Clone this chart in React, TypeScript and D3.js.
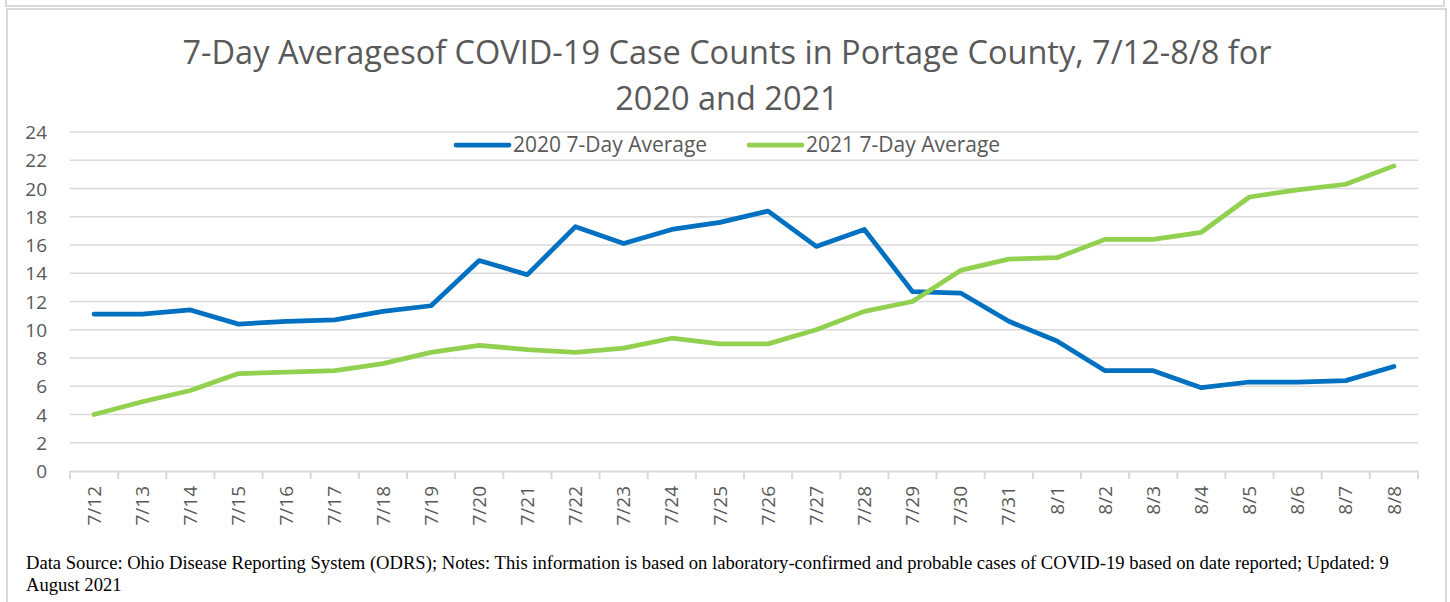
import React, { useEffect, useRef } from 'react';
import * as d3 from 'd3';

const days = [
  '7/12', '7/13', '7/14', '7/15', '7/16', '7/17', '7/18', '7/19', '7/20', '7/21',
  '7/22', '7/23', '7/24', '7/25', '7/26', '7/27', '7/28', '7/29', '7/30', '7/31',
  '8/1', '8/2', '8/3', '8/4', '8/5', '8/6', '8/7', '8/8'
];

const avg2020 = [
  11.1, 11.1, 11.4, 10.4, 10.6, 10.7, 11.3, 11.7, 14.9, 13.9,
  17.3, 16.1, 17.1, 17.6, 18.4, 15.9, 17.1, 12.7, 12.6, 10.6,
  9.2, 7.1, 7.1, 5.9, 6.3, 6.3, 6.4, 7.4
];

const avg2021 = [
  4.0, 4.9, 5.7, 6.9, 7.0, 7.1, 7.6, 8.4, 8.9, 8.6,
  8.4, 8.7, 9.4, 9.0, 9.0, 10.0, 11.3, 12.0, 14.2, 15.0,
  15.1, 16.4, 16.4, 16.9, 19.4, 19.9, 20.3, 21.6
];

const yTicks = [0, 2, 4, 6, 8, 10, 12, 14, 16, 18, 20, 22, 24];

const seriesNames = ['2020 7-Day Average', '2021 7-Day Average'];
const seriesColors = ['#0070C0', '#92D050'];

const titleLines = [
  '7-Day Averagesof COVID-19 Case Counts in Portage County, 7/12-8/8 for',
  '2020 and 2021'
];
const footerLines = [
  'Data Source: Ohio Disease Reporting System (ODRS); Notes: This information is based on laboratory-confirmed and probable cases of COVID-19 based on date reported; Updated: 9',
  'August 2021'
];

const W = 1450;
const H = 602;
const sans = "'Open Sans', sans-serif";

export default function App() {
  const ref = useRef<SVGSVGElement | null>(null);

  useEffect(() => {
    document.body.style.margin = '0';
    const svg = d3.select(ref.current);
    svg.selectAll('*').remove();

    // frames
    svg.append('rect').attr('x', 6).attr('y', -10).attr('width', 1438).attr('height', 16)
      .attr('fill', 'none').attr('stroke', '#d9d9d9').attr('stroke-width', 2);
    svg.append('rect').attr('x', 7).attr('y', 9).attr('width', 1439).attr('height', 600)
      .attr('fill', '#fff').attr('stroke', '#d9d9d9').attr('stroke-width', 2);

    const left = 70, right = 1418, top = 132, bottom = 471;

    const x = d3.scaleBand().domain(days).range([left, right]);
    const y = d3.scaleLinear().domain([0, 24]).range([bottom, top]);

    // title
    svg.append('g').selectAll('text').data(titleLines).enter().append('text')
      .attr('x', 727).attr('y', (d, i) => 64 + i * 46)
      .attr('text-anchor', 'middle')
      .attr('font-family', sans).attr('font-size', 32.5).attr('fill', '#595959')
      .text(d => d);

    // gridlines
    svg.append('g').selectAll('line').data(yTicks.filter(t => t > 0)).enter().append('line')
      .attr('x1', left).attr('x2', right)
      .attr('y1', d => y(d)).attr('y2', d => y(d))
      .attr('stroke', '#d9d9d9').attr('stroke-width', 1.5);

    // y axis labels
    const yAxis = svg.append('g').attr('transform', `translate(${left - 23},0)`)
      .call(d3.axisLeft(y).tickValues(yTicks).tickSize(0).tickPadding(0));
    yAxis.select('.domain').remove();
    yAxis.selectAll('text').attr('font-family', sans).attr('font-size', 19)
      .attr('fill', '#595959').attr('dy', '0.35em');

    // x axis
    const xAxis = svg.append('g').attr('transform', `translate(0,${bottom})`)
      .call(d3.axisBottom(x).tickSize(0));
    xAxis.select('.domain').attr('stroke', '#d9d9d9').attr('stroke-width', 2);
    xAxis.selectAll('text')
      .attr('font-family', sans).attr('font-size', 19).attr('fill', '#595959')
      .attr('transform', 'rotate(-90)')
      .attr('text-anchor', 'end')
      .attr('x', -15).attr('y', 0).attr('dy', '0.35em');

    // tick marks between categories
    const bounds = days.map(d => x(d) as number).concat([right]);
    svg.append('g').selectAll('line').data(bounds).enter().append('line')
      .attr('x1', d => d).attr('x2', d => d)
      .attr('y1', bottom).attr('y2', bottom + 8)
      .attr('stroke', '#d9d9d9').attr('stroke-width', 2);

    // lines
    const line = d3.line<number>()
      .x((d, i) => (x(days[i]) as number) + x.bandwidth() / 2)
      .y(d => y(d));

    [avg2020, avg2021].forEach((s, i) => {
      svg.append('path').datum(s)
        .attr('d', line)
        .attr('fill', 'none')
        .attr('stroke', seriesColors[i])
        .attr('stroke-width', 4.75)
        .attr('stroke-linejoin', 'round')
        .attr('stroke-linecap', 'round');
    });

    // legend
    const legendX = [456, 749];
    const lg = svg.append('g').selectAll('g').data(seriesNames).enter().append('g')
      .attr('transform', (d, i) => `translate(${legendX[i]},145)`);
    lg.append('line').attr('x1', 0).attr('x2', 53).attr('y1', 0).attr('y2', 0)
      .attr('stroke', (d, i) => seriesColors[i]).attr('stroke-width', 4.75)
      .attr('stroke-linecap', 'round');
    lg.append('text').attr('x', 57).attr('y', 0).attr('dy', '0.35em')
      .attr('font-family', sans).attr('font-size', 21).attr('fill', '#595959')
      .text(d => d);

    // footer
    svg.append('g').selectAll('text').data(footerLines).enter().append('text')
      .attr('x', 26).attr('y', (d, i) => 569 + i * 22)
      .attr('font-family', "'Liberation Serif', serif").attr('font-size', 18.6)
      .attr('fill', '#000')
      .text(d => d);
  }, []);

  return <svg ref={ref} width={W} height={H} style={{ display: 'block', background: '#fff' }} />;
}
